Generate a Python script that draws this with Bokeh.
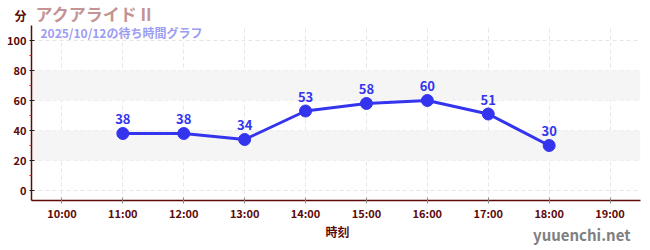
from bokeh.plotting import figure
from bokeh.layouts import column
from bokeh.models import ColumnDataSource, FixedTicker, Label, BoxAnnotation, Range1d
from bokeh.core.properties import value
from bokeh.embed import file_html
from bokeh.resources import INLINE

hours = [11, 12, 13, 14, 15, 16, 17, 18]
waits = [38, 38, 34, 53, 58, 60, 51, 30]
tick_hours = [10, 11, 12, 13, 14, 15, 16, 17, 18, 19]
tick_labels = {h: f"{h}:00" for h in tick_hours}
title_text = "アクアライド II"
subtitle_text = "2025/10/12の待ち時間グラフ"
y_label = "分"
x_label = "時刻"
site = "yuuenchi.net"

FONT = "Noto Sans CJK JP"
DARK = "#5c0a0a"
BLUE = "#3434ee"
W = 650
LEFT, RIGHT = 31, 10
HEAD_H, MAIN_H, FOOT_H = 25, 198, 27


def text_panel(h):
    # frame covers the whole panel: x data units equal page pixels,
    # y data units equal pixels from the panel top
    f = figure(width=W, height=h, output_backend="svg", toolbar_location=None,
               x_range=Range1d(0, W), y_range=Range1d(h, 0),
               x_axis_location=None, y_axis_location=None,
               min_border_left=0, min_border_right=0,
               min_border_top=0, min_border_bottom=0)
    f.frame_align = False
    f.grid.visible = False
    f.outline_line_color = None
    return f


def put(f, x, y, text, size, color, align="left", style="bold"):
    f.text(x=[x], y=[y], text=[text], text_align=align, text_baseline="middle",
           text_color=color, text_font=value(FONT), text_font_size=size,
           text_font_style=style)


# header
head = text_panel(HEAD_H)
put(head, 20, 15, y_label, "12px", DARK, align="center")
put(head, 35, 13, title_text, "17px", "#c49494")

# main chart
src = ColumnDataSource(dict(x=hours, y=waits, t=[str(v) for v in waits]))
p = figure(width=W, height=MAIN_H, output_backend="svg", toolbar_location=None,
           x_range=Range1d(9.5, 19.5), y_range=Range1d(-6.67, 110),
           min_border_left=LEFT, min_border_right=RIGHT, min_border_top=0, min_border_bottom=18)
p.outline_line_color = None

for lo, hi in [(20, 40), (60, 80)]:
    p.add_layout(BoxAnnotation(bottom=lo, top=hi, fill_color="#f5f5f5", fill_alpha=1,
                               line_color=None, level="underlay"))

p.xgrid.grid_line_color = "#e6e6e6"
p.xgrid.grid_line_dash = "4 3"
p.ygrid.grid_line_color = "#e6e6e6"
p.ygrid.grid_line_dash = "4 3"

p.xaxis.ticker = FixedTicker(ticks=tick_hours)
p.xaxis.major_label_overrides = tick_labels
p.xaxis.axis_line_color = DARK
p.xaxis.axis_line_width = 1.5
p.xaxis.major_tick_line_color = "#888888"
p.xaxis.major_tick_in = 3
p.xaxis.major_tick_out = 3
p.xaxis.minor_tick_line_color = None
p.xaxis.major_label_text_color = DARK
p.xaxis.major_label_text_font = FONT
p.xaxis.major_label_text_font_size = "11px"
p.xaxis.major_label_text_font_style = "bold"
p.xaxis.major_label_standoff = 1

p.yaxis.ticker = FixedTicker(ticks=[0, 20, 40, 60, 80, 100], minor_ticks=[10, 30, 50, 70, 90])
p.yaxis.axis_line_color = DARK
p.yaxis.axis_line_width = 1.5
p.yaxis.major_tick_line_color = "#222222"
p.yaxis.major_tick_in = 3
p.yaxis.major_tick_out = 2
p.yaxis.minor_tick_line_color = "#dd2222"
p.yaxis.minor_tick_in = 0
p.yaxis.minor_tick_out = 2
p.yaxis.major_label_text_color = DARK
p.yaxis.major_label_text_font = FONT
p.yaxis.major_label_text_font_size = "11px"
p.yaxis.major_label_text_font_style = "bold"
p.yaxis.major_label_standoff = 3

p.line("x", "y", source=src, line_color=BLUE, line_width=3)
p.scatter("x", "y", source=src, size=12, fill_color=BLUE, line_color=BLUE)
p.text("x", "y", text="t", source=src, text_align="center", text_baseline="middle",
       y_offset=-14, text_color=BLUE, text_font=value(FONT), text_font_size="13px",
       text_font_style="bold")

p.add_layout(Label(x=9.648, y=105.3, text=subtitle_text, text_baseline="middle",
                   text_color="#9c9cf2", text_font=FONT, text_font_size="12px",
                   text_font_style="bold"))

# footer
foot = text_panel(FOOT_H)
put(foot, 337, 8, x_label, "12px", DARK, align="center")
put(foot, 630, 11, site, "15px", "#808080", align="right", style="bold")

layout = column(head, p, foot, spacing=0)
open("out.html", "w").write(file_html(layout, INLINE))
